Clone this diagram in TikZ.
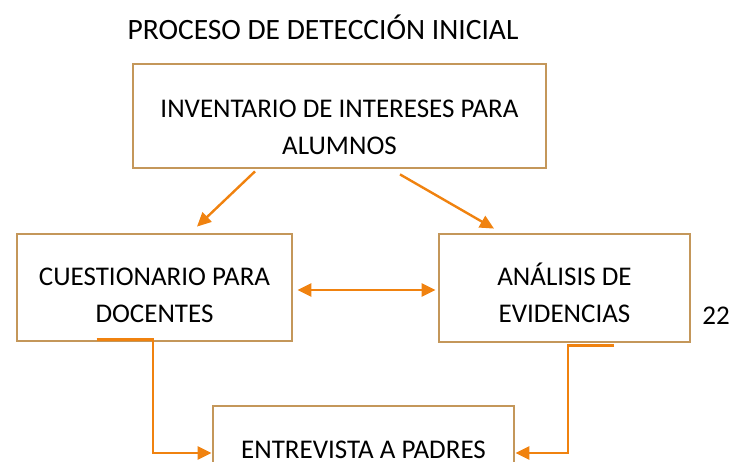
\documentclass[tikz,border=0pt]{standalone}
\usepackage{fontspec}
\setmainfont{Carlito}
\usepackage{tikz}
\usetikzlibrary{arrows.meta, positioning, calc}
\definecolor{bordecafe}{HTML}{C4975A}
\definecolor{naranja}{HTML}{F0820F}
\newcommand{\bajar}[1][33pt]{\rule{0pt}{#1}}

\tikzset{
  caja/.style={draw=bordecafe, line width=2.8pt, fill=white, align=center,
    font=\fontsize{27}{37}\selectfont, inner sep=0pt},
  flecha/.style={draw=naranja, line width=2.4pt, -{Triangle[length=14pt,width=13pt]}},
  dobleflecha/.style={flecha, {Triangle[length=14pt,width=13pt]}-{Triangle[length=14pt,width=13pt]}}
}

\begin{document}
\begin{tikzpicture}[x=1pt, y=-1pt]
    \useasboundingbox (0,0) rectangle (734,461);
    % Titulo
    \node[font=\fontsize{29.5}{36}\selectfont] (titulo) at (323,27) {PROCESO DE DETECCIÓN INICIAL};
    % Cajas del proceso
    \node[caja, minimum width=413pt, minimum height=104pt] (inv) at (339.5,116) {\bajar[41pt]INVENTARIO DE INTERESES PARA\\ALUMNOS};
    \node[caja, minimum width=275pt, minimum height=107pt] (cue) at (154.5,287.5) {\bajar CUESTIONARIO PARA\\DOCENTES};
    \node[caja, minimum width=251pt, minimum height=108pt] (ana) at (564.5,288) {\bajar ANÁLISIS DE\\EVIDENCIAS};
    \node[caja, minimum width=301pt, minimum height=108pt, text height=20pt, text depth=23pt] (ent) at (363.5,460) {ENTREVISTA A PADRES};
    \node[font=\fontsize{27}{32}\selectfont] (pagina) at (716,316) {22};
    % Conectores
    \draw[flecha] ([xshift=-84.5pt,yshift=-2pt]inv.south) -- ([xshift=42.5pt,yshift=6pt]cue.north);
    \draw[flecha] ([xshift=60.5pt,yshift=-5pt]inv.south) -- ([xshift=-70.5pt,yshift=4pt]ana.north);
    \draw[dobleflecha] ([xshift=4pt,yshift=-2.5pt]cue.east) -- ([xshift=-2pt,yshift=-2pt]ana.west);
    \draw[flecha] ([xshift=81pt,yshift=3pt]cue.south west) -- ([xshift=-1.5pt,yshift=3pt]cue.south) |- ([yshift=7pt]ent.west);
    \draw[flecha] ([xshift=49.5pt,yshift=-2pt]ana.south) -- ([xshift=3.5pt,yshift=-2pt]ana.south) |- ([yshift=7pt]ent.east);
\end{tikzpicture}
\end{document}
